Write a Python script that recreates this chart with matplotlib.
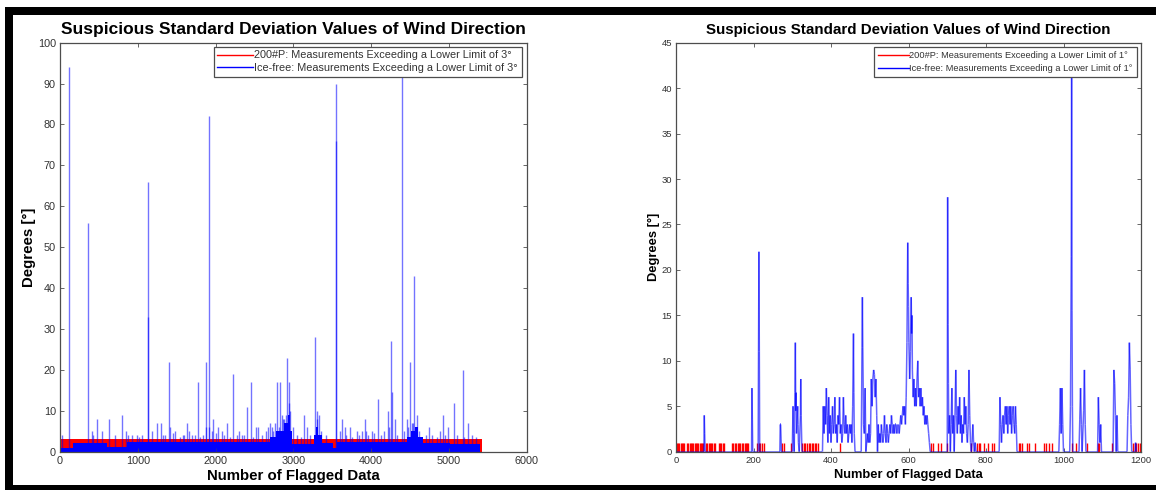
import numpy as np
import matplotlib.pyplot as plt
from matplotlib.collections import LineCollection
from matplotlib.patches import Rectangle
from matplotlib.lines import Line2D

plt.rcParams['font.family'] = ['Liberation Sans', 'DejaVu Sans']

W, H = 1156, 490
TITLE = "Suspicious Standard Deviation Values of Wind Direction"
XLABEL = "Number of Flagged Data"
YLABEL = "Degrees [°]"

# ---- left panel: lower limit 3 deg ----
red_left_x = [0, 5420]
red_left_top = [3.0, 3.0]

blue_band_edges = [0, 170, 600, 860, 2700, 2780, 2880, 2930, 2960, 2980, 3260,
                   3290, 3320, 3370, 3510, 3555, 4455, 4510, 4560, 4600, 4670,
                   5010, 5400]
blue_band_tops = [1.0, 2.2, 1.2, 2.4, 3.5, 5.0, 7.0, 9.0, 5.0, 2.0, 4.0,
                  6.0, 4.0, 2.2, 0.8, 2.4, 3.5, 5.0, 6.0, 3.5, 2.2,
                  1.8, 1.8]

spike_left_x = [21, 114, 357, 407, 428, 471, 536, 634, 707, 793, 848, 921, 985,
                1133, 1133, 1242, 1293, 1320, 1400, 1413, 1482, 1585, 1627, 1692,
                1771, 1871, 1881, 1910, 1919, 1970, 2034, 2080, 2150, 2229, 2334,
                2400, 2457, 2518, 2548, 2700, 2720, 2740, 2790, 2830, 2850, 2880,
                2924, 2940, 2950, 2960, 3143, 3170, 3281, 3300, 3333, 3548, 3548,
                3620, 3663, 3727, 3812, 3919, 3935, 4005, 4090, 4211, 4257, 4265,
                4305, 4395, 4455, 4505, 4541, 4557, 4590, 4747, 4780, 4929, 4991,
                5060, 5176, 5250,
                880, 1010, 1060, 1180, 1350, 1450, 1540, 1600, 1660, 1730, 1800,
                1840, 1950, 2000, 2110, 2190, 2270, 2300, 2370, 2480, 2600, 2650,
                2680, 2760, 2810, 2870, 2900, 2990, 3050, 3100, 3220, 3310, 3360,
                3420, 3600, 3680, 3760, 3850, 3880, 3960, 4040, 4130, 4160, 4230,
                4330, 4420, 4480, 4530, 4620, 4700, 4850, 4880, 4950, 5100, 5200,
                5300, 5350]
spike_left_y = [4, 94, 56, 5, 4, 8, 5, 8, 4, 9, 5, 4, 4,
                66, 33, 7, 7, 4, 22, 6, 5, 4, 7, 4,
                17, 6, 22, 82, 6, 8, 6, 5, 7, 19, 4,
                11, 17, 6, 6, 7, 6, 5, 17, 17, 9, 8,
                23, 17, 12, 10, 9, 6, 28, 10, 9, 90, 76,
                8, 6, 6, 5, 8, 5, 5, 13, 10, 27, 14.5,
                8, 93, 8, 22, 7, 43, 9, 6, 4, 9, 6,
                12, 20, 7,
                4, 3.5, 4, 5, 4, 4.5, 3.5, 4, 5, 4, 3.5,
                4, 5, 4.5, 4, 3.5, 4, 5, 4, 3.5, 4, 5,
                6, 7, 6, 8, 9, 6, 4, 3.5, 4, 8, 5,
                4, 5, 4, 3.5, 4, 5, 4, 4.5, 4, 5, 6,
                4, 5, 6, 7, 5, 4, 3.5, 5, 4, 4, 3.5,
                4, 3.5]

# ---- right panel: lower limit 1 deg ----
blue_right_x = [0, 72, 73, 74, 75, 195, 196, 197, 198, 212, 213, 214, 215, 216,
                268, 269, 270, 271, 272, 300, 301, 302, 303, 305, 307, 308, 309,
                310, 311, 314, 315, 316, 318, 321, 322, 323, 325, 378,
                380, 382, 384, 386, 388, 390, 392, 394, 396, 398, 400, 402, 404,
                406, 408, 410, 412, 414, 416, 418, 420, 422, 424, 426, 428, 430,
                432, 434, 436, 438, 440, 442, 444, 446, 448, 450, 452, 454, 456,
                458, 459, 460, 462, 478, 480, 481, 482, 484, 486, 488, 490, 494,
                496, 498, 500, 502, 504, 506, 508, 510, 512, 514, 516, 518, 520,
                522, 524, 526, 528, 530, 532, 534, 536, 538, 540, 542, 544, 546,
                548, 550, 552, 554, 556, 558, 560, 562, 564, 566, 568, 570, 572,
                574, 576, 578, 580, 582, 584, 586, 588, 590, 592, 594, 596, 598,
                599, 600, 601, 603, 605, 607, 608, 609, 610, 612, 614, 616, 618,
                620, 622, 624, 626, 628, 630, 632, 634, 636, 638, 640, 642, 644,
                646, 648, 650, 652, 654, 656, 700, 701, 702, 703, 704, 706, 708,
                710, 712, 714, 716, 718, 720, 722, 724, 726, 728, 730, 732, 734,
                736, 738, 740, 742, 744, 746, 748, 750, 752, 754, 756, 758, 760,
                762, 764, 766, 768, 770, 772, 774, 834, 836, 838, 840, 842, 844,
                846, 848, 850, 852, 854, 856, 858, 860, 862, 864, 866, 868, 870,
                872, 874, 876, 878, 880, 988, 990, 992, 994, 996, 998, 1000, 1016,
                1018, 1020, 1021, 1022, 1023, 1024, 1040, 1042, 1044, 1046, 1048,
                1052, 1054, 1056, 1058, 1088, 1090, 1092, 1094, 1096, 1098, 1128,
                1130, 1132, 1134, 1136, 1138, 1140, 1164, 1166, 1168, 1170, 1172,
                1174, 1176, 1185, 1186, 1188]
blue_right_y = [0, 0, 4, 2, 0, 0, 7, 3.5, 0, 0, 11, 22, 11, 0,
                0, 3, 3, 1.5, 0, 0, 2.5, 5, 2, 0, 6.5, 12, 4.5,
                6.5, 2, 5, 3, 1, 0, 4, 8, 4, 0, 0,
                5, 2, 5, 3, 7, 4, 1, 6, 2, 4, 1, 3, 5,
                2, 3, 6, 2, 3, 1, 4, 3, 6, 2, 3, 1, 2,
                6, 3, 2, 4, 2, 3, 1, 2, 3, 2, 3, 1, 5,
                13, 6.5, 2, 0, 0, 11.5, 17, 11.5, 3, 2, 7, 0, 2,
                1, 3, 1, 2, 8, 5, 8, 9, 8.5, 6, 8, 4, 0,
                3, 1, 2, 1, 3, 2, 1, 2, 4, 2, 1, 3, 2,
                1, 2, 3, 2, 4, 3, 2, 3, 2, 3, 3, 2, 3,
                3, 2, 3, 4, 3, 4, 5, 4, 5, 3, 6, 12, 23,
                18.5, 16, 12, 8, 11, 17, 13, 15, 9, 6, 8, 5, 7,
                5, 8, 10, 6, 7, 5, 7, 5, 6, 4, 5, 3, 4,
                3, 4, 3, 2, 1, 0, 0, 28, 14, 7.5, 2, 4, 0,
                3, 7, 2, 4, 0, 4, 9, 4, 2, 5, 3, 6, 2,
                4, 1, 3, 2, 6, 3, 5, 2, 1, 3, 9, 4, 1,
                0, 1, 3, 1, 0, 1, 0, 0, 6, 3, 1, 3, 4,
                2, 4, 5, 3, 5, 2, 4, 5, 3, 5, 2, 4, 5,
                3, 2, 5, 3, 0, 0, 3, 7, 2, 7, 3, 0, 0,
                5, 21.5, 43, 15.5, 5, 0, 0, 3.5, 7, 3, 0,
                4.5, 9, 3, 0, 0, 6, 3, 1, 3, 0, 0,
                9, 7.5, 4, 0, 4, 0, 0, 4, 6, 12, 9,
                3, 0, 0, 1, 0]

red_right_x = [3, 6, 9, 12, 15, 18, 21, 28, 31, 35, 38, 41, 44, 48, 51, 54, 58, 61,
               64, 67, 70, 77, 80, 84, 87, 90, 94, 97, 100, 110, 113, 117, 120, 124,
               145, 148, 152, 155, 159, 162, 165, 170, 173, 177, 180, 184, 187, 209,
               213, 218, 222, 226, 273, 278, 296, 326, 330, 334, 338, 342, 346, 350,
               354, 358, 362, 366, 423, 657, 664, 676, 683, 699, 760, 776, 781, 785,
               795, 805, 815, 820, 885, 889, 893, 907, 912, 926, 950, 955, 963, 970,
               1021, 1032, 1060, 1088, 1092, 1126, 1180, 1184, 1188, 1193, 1197]
red_right_y = [1] * len(red_right_x)

BLUE = "#0000ff"
RED = "#ff0000"
GRAY = "#4d4d4d"


def style_axes(ax, xlim, ylim, xticks, yticks, fs_tick):
    ax.set_xlim(*xlim)
    ax.set_ylim(*ylim)
    ax.set_xticks(xticks)
    ax.set_yticks(yticks)
    ax.tick_params(direction="in", top=True, right=True, length=3, width=0.6,
                   color=GRAY, labelcolor="#333333", labelsize=fs_tick, pad=3)
    for s in ax.spines.values():
        s.set_color(GRAY)
        s.set_linewidth(0.9)


fig = plt.figure(figsize=(W / 100, H / 100), dpi=100)

# left
ax1 = fig.add_axes([60 / W, 1 - 451.7 / H, 466.7 / W, 409 / H])
ax1.fill_between(red_left_x, 0, red_left_top, color=RED, lw=0)
ax1.fill_between(blue_band_edges, 0, blue_band_tops, step="post", color=BLUE, lw=0)
ax1.vlines(spike_left_x, 0, spike_left_y, color=BLUE, alpha=0.55, lw=1)
style_axes(ax1, (0, 6000), (0, 100), range(0, 6001, 1000), range(0, 101, 10), 7.8)
ax1.set_title(TITLE, fontsize=12.55, fontweight="bold", pad=6)
ax1.set_xlabel(XLABEL, fontsize=10.8, fontweight="bold")
ax1.set_ylabel(YLABEL, fontsize=10.8, fontweight="bold")
ax1.xaxis.set_label_coords(0.5, -0.042)
ax1.yaxis.set_label_coords(-0.052, 0.5)
h1 = [Line2D([], [], color=RED, lw=1), Line2D([], [], color=BLUE, lw=1)]
leg1 = ax1.legend(h1, ["200#P: Measurements Exceeding a Lower Limit of 3°",
                       "Ice-free: Measurements Exceeding a Lower Limit of 3°"],
                  loc="upper right", bbox_to_anchor=(1 - 5 / 466.7, 1 - 4 / 409),
                  borderaxespad=0, fontsize=7.8, handlelength=3.3, handletextpad=0.1,
                  labelspacing=0.25, borderpad=0.35, fancybox=False, framealpha=1,
                  edgecolor=GRAY, labelcolor="#333333")
leg1.get_frame().set_linewidth(0.9)

# right
ax2 = fig.add_axes([676 / W, 1 - 451.7 / H, 465 / W, 409 / H])
ax2.vlines(red_right_x, 0, red_right_y, color=RED, lw=1)
pts = np.column_stack([blue_right_x, blue_right_y])
segs = np.stack([pts[:-1], pts[1:]], axis=1)
ax2.add_collection(LineCollection(segs, colors=BLUE, alpha=0.6, linewidths=1.1))
style_axes(ax2, (0, 1200), (0, 45), range(0, 1201, 200), range(0, 46, 5), 6.8)
ax2.set_title(TITLE, fontsize=10.9, fontweight="bold", pad=6)
ax2.set_xlabel(XLABEL, fontsize=9.3, fontweight="bold")
ax2.set_ylabel(YLABEL, fontsize=9.3, fontweight="bold")
ax2.xaxis.set_label_coords(0.5, -0.042)
ax2.yaxis.set_label_coords(-0.035, 0.5)
h2 = [Line2D([], [], color=RED, lw=1), Line2D([], [], color=BLUE, lw=1)]
leg2 = ax2.legend(h2, ["200#P: Measurements Exceeding a Lower Limit of 1°",
                       "Ice-free: Measurements Exceeding a Lower Limit of 1°"],
                  loc="upper right", bbox_to_anchor=(1 - 4 / 465, 1 - 4 / 409),
                  borderaxespad=0, fontsize=6.65, handlelength=3.3, handletextpad=0.1,
                  labelspacing=0.45, borderpad=0.45, fancybox=False, framealpha=1,
                  edgecolor=GRAY, labelcolor="#333333")
leg2.get_frame().set_linewidth(0.9)

# black frame around the figure
for x0, y0, x1, y1 in [(5, 7, W, 15), (5, 7, 13, 486), (5, 485, W, H)]:
    fig.add_artist(Rectangle((x0 / W, 1 - y1 / H), (x1 - x0) / W, (y1 - y0) / H,
                             transform=fig.transFigure, color="black", lw=0))

fig.savefig("out.png", dpi=100)
